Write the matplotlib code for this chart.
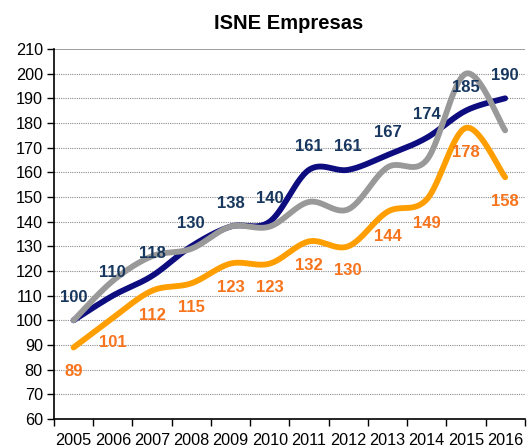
import numpy as np
import matplotlib
matplotlib.use("Agg")
import matplotlib.pyplot as plt

years = ["2005", "2006", "2007", "2008", "2009", "2010", "2011", "2012",
         "2013", "2014", "2015", "2016"]
blue_vals = [100, 110, 118, 130, 138, 140, 161, 161, 167, 174, 185, 190]
gray_vals = [100, 116, 126, 129, 138, 138, 148, 145, 162, 165, 200, 177]
orange_vals = [89, 101, 112, 115, 123, 123, 132, 130, 144, 149, 178, 158]

plt.rcParams['font.family'] = ['Liberation Sans', 'DejaVu Sans']


def smooth(xs, ys, n=30):
    xs = np.asarray(xs, float)
    ys = np.asarray(ys, float)
    P = np.column_stack([xs, ys])
    out = []
    m = len(P)
    for i in range(m - 1):
        p0 = P[i - 1] if i > 0 else P[i]
        p1 = P[i]
        p2 = P[i + 1]
        p3 = P[i + 2] if i + 2 < m else P[i + 1]
        c1 = p1 + (p2 - p0) / 6.0
        c2 = p2 - (p3 - p1) / 6.0
        t = np.linspace(0, 1, n)[:, None]
        seg = ((1 - t) ** 3) * p1 + 3 * ((1 - t) ** 2) * t * c1 + 3 * (1 - t) * t ** 2 * c2 + t ** 3 * p2
        if i > 0:
            seg = seg[1:]
        out.append(seg)
    c = np.vstack(out)
    return c[:, 0], c[:, 1]


fig = plt.figure(figsize=(5.29, 4.48), dpi=100)
ax = fig.add_axes([0.102, 0.0647, 0.890, 0.826])

x = np.arange(len(years))
navy = "#0D0D80"
gray = "#999999"
orange = "#FF9E00"
blue_txt = "#17375E"
orange_txt = "#F7741D"

for vals, col, z in [(blue_vals, navy, 3), (gray_vals, gray, 4), (orange_vals, orange, 5)]:
    sx, sy = smooth(x, vals)
    ax.plot(sx, sy, color=col, lw=4.2, solid_capstyle='round', zorder=z)

for xi, v in zip(x, blue_vals):
    ax.annotate(str(v), (xi, v), xytext=(0, 16.5), textcoords='offset points',
                ha='center', va='center', fontsize=12, fontweight='bold',
                color=blue_txt, zorder=6)
for xi, v in zip(x, orange_vals):
    ax.annotate(str(v), (xi, v), xytext=(0, -17.5), textcoords='offset points',
                ha='center', va='center', fontsize=12, fontweight='bold',
                color=orange_txt, zorder=6)

ax.set_xlim(-0.5, len(years) - 0.5)
ax.set_ylim(60, 210)
ax.set_yticks(np.arange(60, 211, 10))
ax.set_xticks(x)
ax.set_xticklabels(years)
ax.set_xticks(np.arange(-0.5, len(years), 1), minor=True)
ax.tick_params(axis='x', which='major', length=0, pad=10, labelsize=11.7)
ax.tick_params(axis='x', which='minor', length=5, width=1, direction='out')
ax.tick_params(axis='y', length=5, width=1, direction='out', labelsize=11.7, pad=3)

for yv in range(70, 210, 10):
    ax.axhline(yv, color='#8C8C8C', lw=0.8, ls=(0, (1, 1)), zorder=1)
ax.axhline(210, color='#8C8C8C', lw=1.2, zorder=1)

ax.spines['top'].set_visible(False)
ax.spines['right'].set_visible(False)
ax.spines['left'].set_linewidth(1.2)
ax.spines['bottom'].set_linewidth(1.2)

fig.text(0.545, 0.948, "ISNE Empresas", ha='center', va='center',
         fontsize=14.5, fontweight='bold')

fig.savefig("out.png", dpi=100)
